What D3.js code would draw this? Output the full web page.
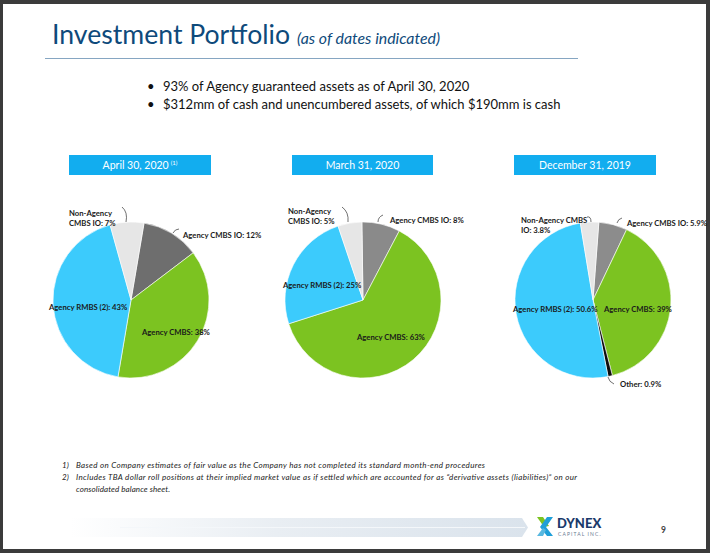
<!DOCTYPE html>
<html>
<head>
<meta charset="utf-8">
<script src="https://cdn.jsdelivr.net/npm/d3@7"></script>
<style>
  body { margin: 0; background: #3b3b3b; }
  svg { display: block; }
  text { font-family: Lato, "Open Sans", sans-serif; }
</style>
</head>
<body>
<div id="chart"></div>
<script>
// ---- data ----
const pieDates = ["April 30, 2020", "March 31, 2020", "December 31, 2019"];
const dateNotes = ["(1)", "", ""];

const aprCategories = ["Agency CMBS IO", "Agency CMBS", "Agency RMBS (2)", "Non-Agency CMBS IO"];
const aprValues = [12, 38, 43, 7];

const marCategories = ["Agency CMBS IO", "Agency CMBS", "Agency RMBS (2)", "Non-Agency CMBS IO"];
const marValues = [8, 63, 25, 5];

const decCategories = ["Agency CMBS IO", "Agency CMBS", "Other", "Agency RMBS (2)", "Non-Agency CMBS IO"];
const decValues = [5.9, 39, 0.9, 50.6, 3.8];

const bullets = [
    "93% of Agency guaranteed assets as of April 30, 2020",
    "$312mm of cash and unencumbered assets, of which $190mm is cash"
];
const footnotes = [
    ["1)", "Based on Company estimates of fair value as the Company has not completed its standard month-end procedures"],
    ["2)", "Includes TBA dollar roll positions at their implied market value as if settled which are accounted for as \u201cderivative assets (liabilities)\u201d on our"],
    ["", "consolidated balance sheet."]
];

// ---- layout / style ----
const W = 710, H = 553;
const radius = 78;
const footWidths = [409, 501, 94];

const pies = [
    {cats: aprCategories, vals: aprValues, cx: 131, cy: 300, start: 0.168, box: [69, 211], grayDark: "#6e6e6e",
     labels: [[52, -62, 0], [11, 35, 0], [-82, 10, 0], [-62, -84, 1]],
     leaders: [[42, -67, 44, -71, 48, -71], null, null, [-9, -93, -3, -88, -5, -78]]},
    {cats: marCategories, vals: marValues, cx: 363, cy: 300, start: -0.014, box: [292, 433], grayDark: "#8a8a8a",
     labels: [[27, -77, 0], [-6, 40, 0], [-80, -12, 0], [-75, -86, 1]],
     leaders: [[15, -78, 15, -83, 20, -85], null, null, [-21, -93, -14, -88, -15, -78]]},
    {cats: decCategories, vals: decValues, cx: 593, cy: 300, start: 0.075, box: [514, 656], grayDark: "#8c8c8c",
     labels: [[34, -74, 0], [11, 12, 0], [27, 87, 0], [-80, 12, 0], [-72, -77, 2]],
     leaders: [[24, -77, 25, -81, 29, -82], null, [15, 77, 16, 82, 21, 84], null, [-6, -83, -2, -84, -2, -78]]}
];

const baseColors = {
    "Agency CMBS": "#7cc321",
    "Agency RMBS (2)": "#3ccbfc",
    "Non-Agency CMBS IO": "#e6e6e6",
    "Other": "#0d0d0d"
};

const svg = d3.select("#chart").append("svg")
    .attr("width", W)
    .attr("height", H);

// slide page with dark frame
svg.append("rect").attr("width", W).attr("height", H).attr("fill", "#3b3b3b");
svg.append("rect")
    .attr("x", 3).attr("y", 4)
    .attr("width", 703).attr("height", 545)
    .attr("fill", "#ffffff");

// title
svg.append("text")
    .attr("x", 52).attr("y", 44)
    .attr("fill", "#0e4a7b")
    .attr("font-size", 27)
    .attr("font-weight", 400)
    .attr("textLength", 238)
    .attr("lengthAdjust", "spacingAndGlyphs")
    .text("Investment Portfolio");
svg.append("text")
    .attr("x", 297).attr("y", 44)
    .attr("fill", "#0e4a7b")
    .attr("font-size", 14.5)
    .attr("font-style", "italic")
    .attr("textLength", 143)
    .attr("lengthAdjust", "spacingAndGlyphs")
    .text("(as of dates indicated)");

svg.append("line")
    .attr("x1", 45).attr("x2", 578)
    .attr("y1", 58.5).attr("y2", 58.5)
    .attr("stroke", "#86a6c2")
    .attr("stroke-width", 1.2);

// bullets
bullets.forEach(function (b, i) {
    let y = 91 + i * 18;
    svg.append("text")
        .attr("x", 147).attr("y", y)
        .attr("font-size", 13).attr("fill", "#111")
        .text("\u2022");
    svg.append("text")
        .attr("x", 163).attr("y", y)
        .attr("font-size", 13).attr("fill", "#111")
        .text(b);
});

// pies
const arc = d3.arc().innerRadius(0).outerRadius(radius);

pies.forEach(function (p, pi) {
    // date header
    svg.append("rect")
        .attr("x", p.box[0]).attr("y", 155)
        .attr("width", p.box[1] - p.box[0]).attr("height", 20)
        .attr("fill", "#12adef");
    let head = svg.append("text")
        .attr("x", (p.box[0] + p.box[1]) / 2).attr("y", 169)
        .attr("text-anchor", "middle")
        .attr("fill", "#ffffff")
        .attr("font-size", 10.5);
    head.append("tspan").text(pieDates[pi]);
    if (dateNotes[pi]) {
        head.append("tspan")
            .attr("dx", 2).attr("dy", -4)
            .attr("font-size", 6)
            .text(dateNotes[pi]);
    }

    let pie = d3.pie().sort(null)
        .startAngle(p.start)
        .endAngle(p.start + 2 * Math.PI);

    let color = d3.scaleOrdinal()
        .domain(p.cats)
        .range(p.cats.map(c => c === "Agency CMBS IO" ? p.grayDark : baseColors[c]));

    let arcs = pie(p.vals);

    let g = svg.append("g")
        .attr("transform", "translate(" + p.cx + "," + p.cy + ")");

    g.selectAll("path.slice")
        .data(arcs)
        .enter()
        .append("path")
        .attr("class", "slice")
        .attr("d", arc)
        .attr("fill", (d, i) => color(p.cats[i]))
        .attr("stroke", "#ffffff")
        .attr("stroke-width", 0.6);

    // leader lines
    p.leaders.forEach(function (l) {
        if (!l) return;
        g.append("path")
            .attr("d", "M" + l[0] + "," + l[1] + " Q" + l[2] + "," + l[3] + " " + l[4] + "," + l[5])
            .attr("fill", "none")
            .attr("stroke", "#333")
            .attr("stroke-width", 0.7);
    });

    // labels
    p.cats.forEach(function (c, i) {
        let lay = p.labels[i];
        let full = c + ": " + p.vals[i] + "%";
        let words = full.split(" ");
        let lines = lay[2] > 0 ? [words.slice(0, lay[2]).join(" "), words.slice(lay[2]).join(" ")] : [full];
        let t = g.append("text")
            .attr("x", lay[0]).attr("y", lay[1])
            .attr("font-size", 7.7)
            .attr("font-weight", 700)
            .attr("fill", "#1a1a1a");
        lines.forEach(function (ln, j) {
            t.append("tspan")
                .attr("x", lay[0])
                .attr("dy", j === 0 ? 0 : 9.5)
                .text(ln);
        });
    });
});

// footnotes
footnotes.forEach(function (f, i) {
    let y = 468 + i * 12;
    svg.append("text")
        .attr("x", 62).attr("y", y)
        .attr("font-size", 8).attr("font-style", "italic").attr("fill", "#222")
        .text(f[0]);
    svg.append("text")
        .attr("x", 76).attr("y", y)
        .attr("font-size", 8).attr("font-style", "italic").attr("fill", "#222")
        .attr("textLength", footWidths[i])
        .attr("lengthAdjust", "spacing")
        .text(f[1]);
});

// footer band
const defs = svg.append("defs");
const grad = defs.append("linearGradient").attr("id", "band");
grad.append("stop").attr("offset", "0%").attr("stop-color", "#ffffff");
grad.append("stop").attr("offset", "45%").attr("stop-color", "#e9eef3");
grad.append("stop").attr("offset", "100%").attr("stop-color", "#dae3ec");

svg.append("path")
    .attr("d", "M70,518 L522,518 L528,527.5 L522,537 L70,537 Z")
    .attr("fill", "url(#band)");
svg.append("line")
    .attr("x1", 120).attr("x2", 525)
    .attr("y1", 527.5).attr("y2", 527.5)
    .attr("stroke", "#f4f7fa")
    .attr("stroke-width", 1);

// logo
svg.append("path")
    .attr("d", "M537,517 L543,517 L549,526 L544,527 Z")
    .attr("fill", "#7cc321");
svg.append("path")
    .attr("d", "M547,517 L553,517 L546,527 L553,536 L547,536 L540,527 Z")
    .attr("fill", "#1f9fd8");
svg.append("path")
    .attr("d", "M537,536 L543,536 L546,530 L543,528 Z")
    .attr("fill", "#58b8e0");
svg.append("text")
    .attr("x", 557).attr("y", 528)
    .attr("font-size", 13).attr("font-weight", 900)
    .attr("fill", "#1b3a6b")
    .text("DYNEX");
svg.append("text")
    .attr("x", 558).attr("y", 535.5)
    .attr("font-size", 5).attr("letter-spacing", 1.1)
    .attr("fill", "#6a7a90")
    .text("CAPITAL INC.");

svg.append("text")
    .attr("x", 661).attr("y", 533)
    .attr("font-size", 8.5).attr("font-weight", 700)
    .attr("fill", "#444")
    .text("9");
</script>
</body>
</html>
